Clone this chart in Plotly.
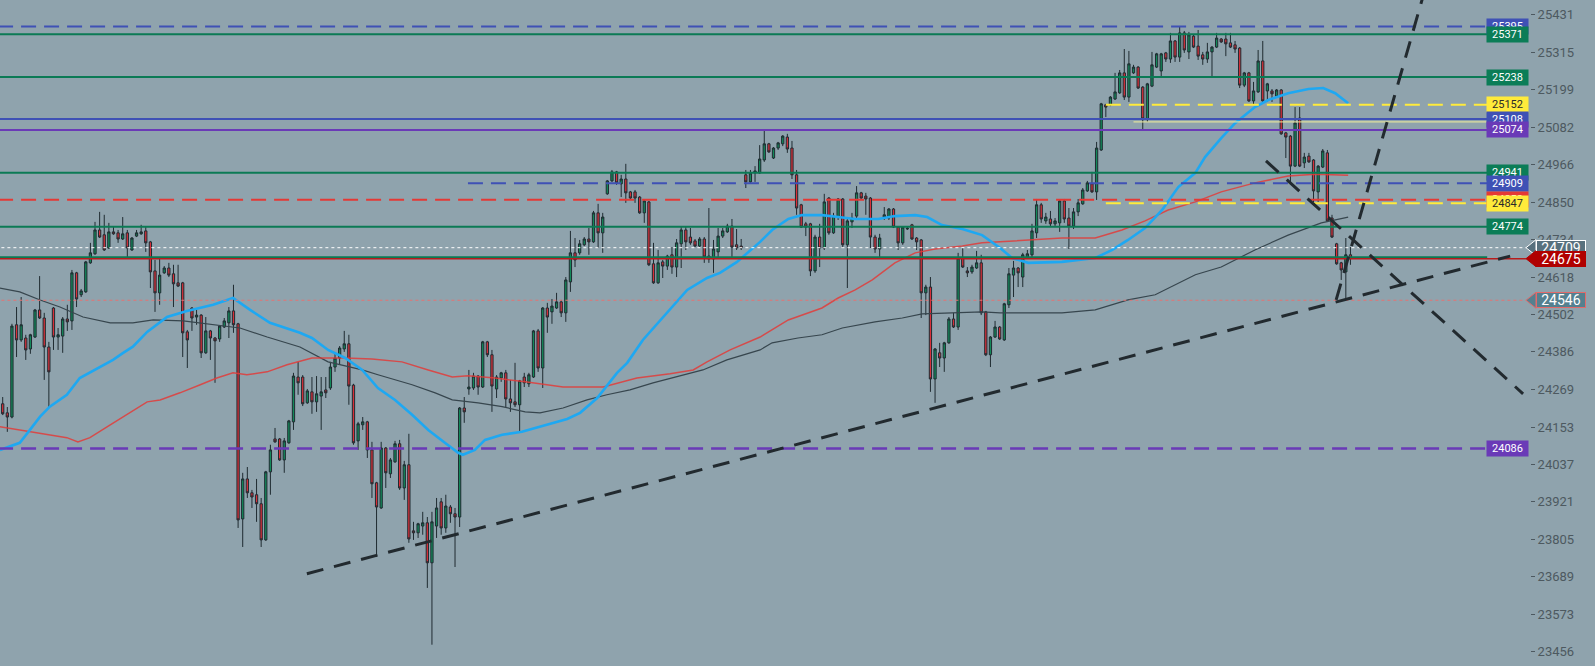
import plotly.graph_objects as go

# candle data (oldest first)
opens = [
    24225, 24197, 24184, 24470, 24423, 24429, 24395, 24432, 24516, 24491,
    24401, 24522, 24432, 24435, 24488, 24482, 24631, 24563, 24572, 24662,
    24690, 24764, 24749, 24708, 24758, 24755, 24736, 24755, 24702, 24745,
    24752, 24761, 24727, 24637, 24569, 24631, 24646, 24628, 24600, 24600,
    24448, 24522, 24494, 24500, 24383, 24451, 24429, 24426, 24463, 24476,
    24513, 24473, 23868, 23992, 23949, 23943, 23915, 23803, 24014, 24116,
    24116, 24051, 24104, 24169, 24308, 24308, 24228, 24262, 24231, 24249,
    24268, 24274, 24339, 24367, 24395, 24411, 24283, 24110, 24160, 24169,
    24082, 23980, 23902, 24088, 24008, 24045, 24101, 23964, 24036, 23831,
    23825, 23846, 23856, 23732, 23846, 23921, 23840, 23905, 23884, 23874,
    24212, 24271, 24274, 24311, 24277, 24417, 24377, 24271, 24305, 24321,
    24240, 24231, 24222, 24308, 24287, 24308, 24451, 24336, 24522, 24510,
    24522, 24541, 24507, 24603, 24693, 24693, 24718, 24736, 24727, 24817,
    24755, 24876, 24916, 24944, 24907, 24922, 24882, 24882, 24866, 24817,
    24851, 24659, 24600, 24665, 24652, 24687, 24649, 24721, 24764, 24742,
    24730, 24714, 24736, 24683, 24674, 24696, 24745, 24758, 24776, 24718,
    24714, 24935, 24913, 24941, 24941, 24981, 25031, 24987, 25018, 25031,
    25052, 25018, 24935, 24842, 24783, 24783, 24637, 24742, 24708, 24863,
    24755, 24804, 24860, 24718, 24789, 24807, 24879, 24869, 24863, 24742,
    24705, 24804, 24801, 24829, 24773, 24724, 24767, 24780, 24739, 24733,
    24569, 24587, 24302, 24383, 24367, 24414, 24488, 24463, 24677, 24637,
    24634, 24646, 24662, 24510, 24377, 24432, 24463, 24423, 24532, 24624,
    24646, 24618, 24680, 24687, 24755, 24842, 24792, 24798, 24783, 24786,
    24854, 24801, 24776, 24820, 24845, 24885, 24907, 24882, 25012, 25152,
    25152, 25170, 25189, 25251, 25176, 25251, 25269, 25207, 25108, 25210,
    25269, 25257, 25313, 25294, 25350, 25300, 25375, 25316, 25365, 25334,
    25307, 25294, 25316, 25331, 25356, 25356, 25344, 25338, 25328, 25213,
    25251, 25164, 25192, 25288, 25195, 25195, 25179, 25198, 25065, 25055,
    24962, 25111, 24972, 24993, 24981, 24882, 24959, 25003, 24801, 24721,
    24662, 24634, 24687,
]
highs = [
    24246, 24215, 24473, 24525, 24556, 24439, 24442, 24519, 24621, 24507,
    24417, 24525, 24460, 24494, 24532, 24640, 24634, 24581, 24668, 24724,
    24789, 24820, 24811, 24786, 24773, 24764, 24804, 24764, 24742, 24764,
    24780, 24773, 24730, 24671, 24677, 24652, 24662, 24656, 24656, 24603,
    24454, 24525, 24516, 24503, 24494, 24454, 24432, 24469, 24491, 24525,
    24594, 24476, 24011, 24029, 23958, 23992, 23933, 24017, 24098, 24150,
    24119, 24119, 24175, 24321, 24355, 24314, 24271, 24308, 24311, 24308,
    24308, 24355, 24383, 24404, 24451, 24439, 24287, 24169, 24184, 24172,
    24107, 23983, 24107, 24091, 24057, 24110, 24113, 24048, 24132, 23859,
    23856, 23890, 23874, 23890, 23933, 23933, 23943, 23911, 23902, 24215,
    24246, 24330, 24321, 24314, 24420, 24420, 24392, 24314, 24324, 24330,
    24299, 24352, 24299, 24321, 24321, 24454, 24457, 24525, 24538, 24550,
    24569, 24547, 24618, 24761, 24739, 24733, 24742, 24770, 24823, 24845,
    24817, 24919, 24950, 24947, 24935, 24969, 24885, 24888, 24869, 24857,
    24854, 24724, 24702, 24671, 24687, 24711, 24736, 24773, 24773, 24770,
    24736, 24742, 24742, 24832, 24733, 24770, 24770, 24783, 24798, 24767,
    24736, 24950, 24950, 24962, 25027, 25077, 25034, 25021, 25037, 25058,
    25062, 25040, 24950, 24845, 24789, 24786, 24749, 24783, 24876, 24866,
    24817, 24863, 24863, 24801, 24817, 24900, 24882, 24879, 24866, 24749,
    24752, 24835, 24832, 24832, 24776, 24776, 24773, 24783, 24742, 24736,
    24594, 24618, 24398, 24414, 24417, 24494, 24507, 24693, 24708, 24649,
    24656, 24699, 24687, 24513, 24435, 24482, 24466, 24538, 24646, 24668,
    24649, 24693, 24702, 24783, 24860, 24848, 24817, 24823, 24801, 24857,
    24860, 24832, 24832, 24860, 24894, 24916, 24944, 25037, 25158, 25155,
    25179, 25251, 25260, 25325, 25319, 25276, 25272, 25210, 25220, 25316,
    25313, 25313, 25316, 25375, 25353, 25396, 25381, 25378, 25369, 25384,
    25316, 25344, 25334, 25375, 25359, 25375, 25375, 25350, 25331, 25254,
    25254, 25223, 25322, 25350, 25220, 25201, 25201, 25201, 25068, 25058,
    25145, 25145, 25003, 25003, 24984, 24965, 25015, 25012, 24811, 24724,
    24665, 24739, 24711,
]
lows = [
    24190, 24138, 24180, 24370, 24417, 24361, 24380, 24429, 24488, 24299,
    24212, 24392, 24392, 24383, 24451, 24454, 24525, 24556, 24569, 24659,
    24687, 24739, 24699, 24705, 24749, 24724, 24733, 24680, 24699, 24742,
    24749, 24696, 24584, 24510, 24532, 24628, 24618, 24525, 24587, 24370,
    24336, 24451, 24470, 24367, 24380, 24361, 24290, 24417, 24460, 24429,
    24445, 23840, 23781, 23933, 23902, 23859, 23781, 23800, 23943, 24104,
    24048, 24011, 24101, 24144, 24253, 24218, 24225, 24194, 24200, 24144,
    24243, 24268, 24324, 24346, 24386, 24222, 24098, 24082, 24144, 24057,
    23933, 23750, 23899, 23964, 23995, 24042, 23958, 23927, 23794, 23803,
    23809, 23819, 23654, 23478, 23809, 23819, 23825, 23856, 23719, 23843,
    24166, 24253, 24268, 24253, 24274, 24370, 24200, 24243, 24293, 24215,
    24200, 24215, 24135, 24277, 24277, 24305, 24324, 24274, 24445, 24473,
    24519, 24494, 24479, 24572, 24649, 24687, 24714, 24687, 24724, 24708,
    24693, 24873, 24913, 24904, 24866, 24848, 24857, 24848, 24814, 24786,
    24652, 24597, 24597, 24615, 24640, 24628, 24618, 24646, 24702, 24718,
    24711, 24711, 24662, 24662, 24631, 24674, 24739, 24755, 24677, 24702,
    24702, 24894, 24910, 24913, 24938, 24975, 25003, 24984, 25012, 25024,
    25003, 24922, 24811, 24770, 24745, 24621, 24631, 24649, 24702, 24749,
    24752, 24795, 24708, 24584, 24770, 24801, 24860, 24811, 24708, 24693,
    24674, 24795, 24795, 24770, 24702, 24718, 24764, 24733, 24702, 24491,
    24500, 24262, 24228, 24339, 24324, 24411, 24460, 24454, 24646, 24618,
    24628, 24643, 24500, 24373, 24339, 24429, 24423, 24420, 24522, 24556,
    24587, 24587, 24677, 24680, 24739, 24786, 24783, 24773, 24773, 24758,
    24786, 24705, 24767, 24807, 24842, 24882, 24879, 24857, 25009, 25114,
    25148, 25167, 25186, 25167, 25161, 25248, 25201, 25074, 25099, 25207,
    25266, 25241, 25285, 25282, 25285, 25285, 25313, 25294, 25328, 25291,
    25276, 25282, 25238, 25328, 25344, 25303, 25328, 25313, 25204, 25207,
    25161, 25152, 25189, 25158, 25161, 25161, 25176, 25059, 24987, 24907,
    24959, 24959, 24956, 24972, 24848, 24851, 24956, 24789, 24739, 24656,
    24609, 24550, 24656,
]
closes = [
    24194, 24184, 24466, 24423, 24470, 24392, 24439, 24516, 24491, 24401,
    24324, 24432, 24439, 24488, 24479, 24631, 24550, 24575, 24665, 24693,
    24764, 24742, 24702, 24758, 24752, 24736, 24752, 24708, 24739, 24755,
    24758, 24724, 24634, 24569, 24624, 24646, 24624, 24597, 24590, 24445,
    24423, 24491, 24500, 24383, 24451, 24429, 24420, 24466, 24482, 24513,
    24470, 23865, 23992, 23949, 23936, 23915, 23803, 24014, 24082, 24107,
    24051, 24110, 24172, 24311, 24290, 24225, 24265, 24231, 24256, 24262,
    24259, 24339, 24367, 24398, 24411, 24280, 24104, 24163, 24169, 24082,
    23977, 23905, 24088, 24011, 24051, 24101, 23964, 24036, 23806, 23825,
    23853, 23856, 23732, 23859, 23902, 23840, 23908, 23884, 23874, 24212,
    24200, 24277, 24311, 24277, 24417, 24377, 24280, 24308, 24321, 24240,
    24228, 24222, 24296, 24290, 24315, 24451, 24336, 24522, 24494, 24528,
    24541, 24507, 24609, 24693, 24671, 24721, 24736, 24727, 24817, 24755,
    24804, 24916, 24944, 24910, 24922, 24879, 24863, 24863, 24817, 24854,
    24656, 24600, 24662, 24652, 24683, 24649, 24724, 24764, 24727, 24724,
    24714, 24736, 24680, 24674, 24705, 24745, 24761, 24776, 24711, 24708,
    24708, 24913, 24941, 24947, 24984, 25031, 25006, 25018, 25034, 25055,
    25015, 24935, 24832, 24773, 24773, 24637, 24742, 24708, 24851, 24755,
    24807, 24860, 24718, 24792, 24801, 24879, 24863, 24860, 24742, 24705,
    24739, 24811, 24829, 24773, 24724, 24773, 24769, 24736, 24727, 24569,
    24587, 24302, 24395, 24367, 24414, 24488, 24463, 24677, 24649, 24631,
    24649, 24662, 24507, 24377, 24432, 24463, 24426, 24535, 24628, 24646,
    24631, 24687, 24690, 24761, 24842, 24798, 24804, 24783, 24792, 24854,
    24798, 24776, 24820, 24848, 24888, 24910, 24882, 25018, 25155, 25145,
    25176, 25192, 25251, 25176, 25279, 25269, 25204, 25108, 25217, 25276,
    25310, 25310, 25294, 25350, 25300, 25375, 25322, 25369, 25331, 25303,
    25294, 25316, 25331, 25359, 25347, 25341, 25331, 25325, 25213, 25251,
    25164, 25195, 25288, 25164, 25217, 25186, 25198, 25062, 25052, 24962,
    25096, 24962, 24990, 24975, 24885, 24962, 25009, 24792, 24742, 24659,
    24640, 24687, 24675,
]

# moving averages, read at points along the chart (bar index, price)
fast_ma_idx = [-0.6, 3.7, 5.9, 8.1, 10.2, 13.9, 16.7, 21.1, 23.9, 26.1, 28.2, 31.3, 35.6,
               39.9, 45.6, 49.9, 53.6, 57.9, 64.4, 67.0, 70.5, 74.2, 77.9, 81.3, 85.0,
               88.7, 92.2, 95.8, 98.7, 99.7, 102.3, 104.5, 108.2, 112.5, 122.3, 125.1,
               128.8, 133.1, 135.3, 138.7, 143.1, 146.1, 148.3, 152.6, 155.4, 159.1,
               164.1, 166.7, 170.2, 173.2, 177.5, 181.0, 184.7, 189.7, 193.3, 197.7,
               200.3, 203.5, 207.9, 212.2, 216.1, 218.7, 222.2, 229.5, 236.7, 240.4,
               243.8, 247.5, 251.2, 254.7, 258.4, 260.5, 264.0, 267.0, 271.3, 274.2,
               278.5, 282.9, 286.1, 288.7, 291.5]
fast_ma = [24082, 24104, 24144, 24185, 24216, 24253, 24305, 24339, 24361, 24383, 24402,
           24448, 24494, 24513, 24532, 24553, 24516, 24476, 24445, 24429, 24392, 24367,
           24330, 24274, 24237, 24191, 24144, 24104, 24073, 24067, 24082, 24113, 24129,
           24138, 24178, 24197, 24243, 24321, 24352, 24423, 24494, 24541, 24578, 24615,
           24631, 24665, 24727, 24764, 24798, 24810, 24810, 24804, 24798, 24798, 24807,
           24810, 24804, 24779, 24767, 24748, 24708, 24677, 24662, 24665, 24677, 24702,
           24733, 24770, 24826, 24897, 24941, 24990, 25049, 25095, 25145, 25167, 25188,
           25201, 25204, 25188, 25157]

mid_ma_idx = [-0.6, 6.6, 13.9, 16.3, 18.9, 23.3, 26.9, 31.3, 34.1, 38.4, 42.8, 46.4, 49.9,
              52.9, 57.3, 61.6, 67.0, 74.2, 80.0, 86.5, 92.2, 97.4, 100.8, 106.7, 113.2,
              121.4, 130.1, 137.4, 144.6, 149.6, 152.6, 157.6, 164.1, 170.2, 177.5, 181.0,
              184.7, 188.4, 193.3, 197.7, 202.0, 207.9, 212.2, 216.1, 222.2, 229.5, 236.7,
              242.5, 247.5, 252.5, 258.4, 264.0, 271.3, 278.5, 284.4, 291.5]
mid_ma = [24154, 24138, 24120, 24107, 24120, 24160, 24191, 24231, 24237, 24259, 24284,
          24305, 24321, 24315, 24324, 24346, 24367, 24367, 24364, 24355, 24330, 24308,
          24312, 24305, 24293, 24277, 24277, 24305, 24318, 24330, 24355, 24392, 24432,
          24485, 24522, 24553, 24578, 24609, 24662, 24693, 24705, 24714, 24724, 24727,
          24733, 24739, 24739, 24764, 24792, 24826, 24851, 24882, 24910, 24931, 24937,
          24934]

slow_ma_idx = [-0.6, 3.7, 8.1, 12.4, 17.4, 23.3, 28.2, 32.6, 39.1, 45.6, 51.4, 57.3, 64.4,
               70.5, 77.9, 81.3, 88.7, 93.7, 97.4, 103.0, 108.2, 113.2, 116.4, 121.4,
               126.6, 130.9, 135.9, 140.9, 146.1, 151.7, 156.9, 164.1, 166.7, 172.3, 177.5,
               181.9, 189.0, 194.9, 199.2, 206.3, 212.2, 216.1, 229.5, 236.7, 243.8, 249.7,
               254.7, 258.4, 264.0, 271.3, 278.5, 285.7, 291.5]
slow_ma = [24584, 24572, 24547, 24525, 24494, 24476, 24476, 24485, 24482, 24470, 24460,
           24432, 24401, 24355, 24330, 24315, 24284, 24259, 24237, 24228, 24216, 24200,
           24197, 24212, 24237, 24253, 24268, 24290, 24309, 24330, 24361, 24392, 24414,
           24429, 24439, 24460, 24479, 24491, 24504, 24507, 24510, 24507, 24507, 24516,
           24547, 24563, 24600, 24625, 24649, 24702, 24748, 24786, 24804]

# horizontal levels (price, first bar, kind)
level_prices = [25395, 25371, 25238, 25152, 25108, 25074, 24941, 24909, 24858, 24847,
                24774, 24086]
level_start = [-1, -1, -1, 239, -1, -1, -1, 100.8, -1, 239, -1, -1]
level_kind = ["blue_dash", "green", "green", "yellow_dash", "blue", "purple", "green",
              "blue_dash", "red_dash", "yellow_dash", "green", "purple_dash"]

# trend lines: (bar, price) endpoints
trend_lines = [
    ((65.9, 23698), (326.6, 24683)),
    ((273.7, 24978), (329.4, 24256)),
    ((288.9, 24547), (309.0, 25552)),
]

# right axis ticks and price tags
tick_vals = [25431, 25315, 25199, 25082, 24966, 24850, 24734, 24618, 24502, 24386,
             24269, 24153, 24037, 23921, 23805, 23689, 23573, 23456]
last_price = 24675
tag_prices = [24709, 24675, 24546]

BG = "#8fa3ad"
Y_MIN, Y_MAX = 23412, 25477
X_MIN, X_MAX = -0.585, 330.9
PLOT_W, PLOT_H = 1530, 666

STYLES = {
    "green": dict(color="#0b7a55", dash="solid", width=2, box="#0b7d57", txt="white"),
    "blue": dict(color="#3f51b5", dash="solid", width=2, box="#3f51b5", txt="white"),
    "purple": dict(color="#6a3ab7", dash="solid", width=2, box="#6a3ab7", txt="white"),
    "blue_dash": dict(color="#3f51b5", dash="15px,8px", width=2, box="#3f51b5", txt="white"),
    "red_dash": dict(color="#e53935", dash="15px,8px", width=2, box="#e53935", txt="white"),
    "yellow_dash": dict(color="#ffeb3b", dash="15px,8px", width=2, box="#ffeb3b", txt="#2a2a2a"),
    "purple_dash": dict(color="#6a3ab7", dash="15px,8px", width=2.5, box="#6a3ab7", txt="white"),
}

x = list(range(len(closes)))

fig = go.Figure()
fig.add_trace(go.Candlestick(
    x=x, open=opens, high=highs, low=lows, close=closes,
    increasing=dict(line=dict(color="#1f2b31", width=1), fillcolor="#13895a"),
    decreasing=dict(line=dict(color="#1f2b31", width=1), fillcolor="#d8303a"),
    whiskerwidth=0, showlegend=False, hoverinfo="skip",
))
fig.add_trace(go.Scatter(x=slow_ma_idx, y=slow_ma, mode="lines",
                         line=dict(color="#37464e", width=1.2), showlegend=False))
fig.add_trace(go.Scatter(x=mid_ma_idx, y=mid_ma, mode="lines",
                         line=dict(color="rgba(226,60,58,0.85)", width=1.5), showlegend=False))
fig.add_trace(go.Scatter(x=fast_ma_idx, y=fast_ma, mode="lines",
                         line=dict(color="#1ea8f2", width=2.6), showlegend=False))

LINE_END = (1487 - 2.7) / 4.615
TAG_END = (1526 - 2.7) / 4.615

shapes = []
annotations = []

# price lines running into the tags
shapes.append(dict(type="line", xref="x", yref="y", x0=X_MIN - 1, x1=TAG_END,
                   y0=24709, y1=24709, line=dict(color="white", width=1, dash="3px,3px")))
shapes.append(dict(type="line", xref="x", yref="y", x0=X_MIN - 1, x1=TAG_END,
                   y0=24546, y1=24546, line=dict(color="#e57373", width=1, dash="3px,3px")))
shapes.append(dict(type="line", xref="x", yref="y", x0=X_MIN - 1, x1=LINE_END,
                   y0=24679, y1=24679, line=dict(color="#0b7a55", width=2)))
shapes.append(dict(type="line", xref="x", yref="y", x0=X_MIN - 1, x1=TAG_END,
                   y0=last_price, y1=last_price, line=dict(color="#b71c1c", width=1.5)))

for price, start, kind in zip(level_prices, level_start, level_kind):
    st = STYLES[kind]
    shapes.append(dict(type="line", xref="x", yref="y", x0=start, x1=LINE_END,
                       y0=price, y1=price,
                       line=dict(color=st["color"], width=st["width"], dash=st["dash"])))

# thin line near the 25108 level
shapes.append(dict(type="line", xref="x", yref="y", x0=245, x1=LINE_END,
                   y0=25099, y1=25099, line=dict(color="#f3ef9c", width=1)))

for (xa, ya), (xb, yb) in trend_lines:
    shapes.append(dict(type="line", xref="x", yref="y", x0=xa, y0=ya, x1=xb, y1=yb,
                       line=dict(color="#222a2f", width=3, dash="17px,11px")))

for price, kind in zip(level_prices, level_kind):
    st = STYLES[kind]
    annotations.append(dict(
        xref="paper", yref="y", x=1507.5 / PLOT_W, y=price, text=str(price),
        xanchor="center", yanchor="middle",
        showarrow=False, bgcolor=st["box"], width=39, height=13, borderpad=1,
        font=dict(family="Roboto", size=11, color=st["txt"]),
    ))


def to_paper_y(price):
    return (price - Y_MIN) / (Y_MAX - Y_MIN)


# price tags: arrow tip as a shape, body as a boxed annotation
tag_fill = ["#58717e", "#b00000", "#55808f"]
tag_border = ["white", "#b00000", "#e26a6a"]
for price, fill, border in zip(tag_prices, tag_fill, tag_border):
    yc = to_paper_y(price)
    h = 8 / PLOT_H
    xt, xl = 1526 / PLOT_W, 1536 / PLOT_W
    shapes.append(dict(
        type="path", xref="paper", yref="paper",
        path=f"M {xt},{yc} L {xl},{yc + h} L {xl},{yc - h} Z",
        fillcolor=fill, line=dict(color=border, width=1), layer="above",
    ))
    annotations.append(dict(
        xref="paper", yref="y", x=1560.5 / PLOT_W, y=price, text=str(price),
        xanchor="center", yanchor="middle",
        showarrow=False, bgcolor=fill, bordercolor=border, borderwidth=1, borderpad=0,
        width=48, height=14, font=dict(family="Roboto", size=14, color="white"),
    ))

fig.update_layout(
    width=1595, height=666,
    margin=dict(l=0, r=1595 - PLOT_W, t=0, b=0),
    paper_bgcolor=BG, plot_bgcolor=BG,
    font=dict(family="Roboto", color="#4d5960"),
    shapes=shapes, annotations=annotations,
    xaxis=dict(range=[X_MIN, X_MAX], visible=False, rangeslider=dict(visible=False),
               showgrid=False, zeroline=False),
    yaxis=dict(range=[Y_MIN, Y_MAX], side="right", tickvals=tick_vals,
               ticktext=[str(v) for v in tick_vals], ticks="outside", ticklen=4,
               tickcolor="#4d5960", tickfont=dict(size=13, color="#4d5960"),
               showgrid=False, zeroline=False, showline=False),
    showlegend=False,
)

fig.write_html("out.html", config={"displayModeBar": False},
               post_script="document.body.style.margin='0';")
